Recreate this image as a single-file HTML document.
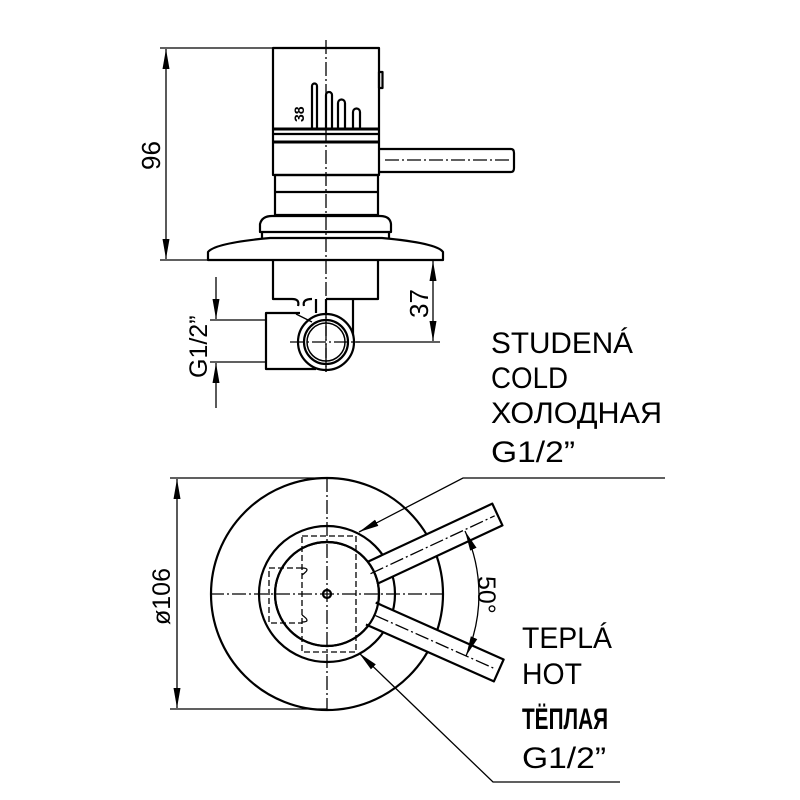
<!DOCTYPE html>
<html><head><meta charset="utf-8"><style>html,body{margin:0;padding:0;background:#fff}svg{display:block}</style></head>
<body>
<svg width="800" height="800" viewBox="0 0 800 800" xmlns="http://www.w3.org/2000/svg">
<defs>
<marker id="a" viewBox="0 0 10 10" refX="10" refY="5" markerWidth="10" markerHeight="10" markerUnits="userSpaceOnUse" orient="auto-start-reverse"><path d="M0,2 L10,5 L0,8 Z" fill="#000"/></marker>
<marker id="b" viewBox="0 0 20 10" refX="20" refY="5" markerWidth="20" markerHeight="10" markerUnits="userSpaceOnUse" orient="auto-start-reverse"><path d="M0,1.5 L20,5 L0,8.5 Z" fill="#000"/></marker>
</defs>
<g fill="none" stroke="#000" stroke-width="2.2" stroke-linejoin="round">
<!-- top view body -->
<rect x="273" y="48" width="106" height="127" fill="#fff"/>
<rect x="379" y="72" width="3.5" height="16"/>
<line x1="273" y1="129" x2="379" y2="129" stroke-width="3"/>
<line x1="273" y1="134" x2="379" y2="134"/>
<line x1="273" y1="142" x2="379" y2="142" stroke-width="3"/>
<path d="M312,129 V86 a2.5,2.5 0 0 1 5,0 V129"/>
<path d="M326,129 V95 a3,3 0 0 1 6,0 V129"/>
<path d="M338,129 V103 a3.5,3.5 0 0 1 7,0 V129"/>
<path d="M353,129 V112 a3.5,3.5 0 0 1 7,0 V129"/>
<path d="M379,149 H511 Q514,149 514,153 V168 Q514,172 511,172 H379"/>
<rect x="275" y="175" width="103" height="40"/>
<line x1="275" y1="192" x2="378" y2="192"/>
<path d="M260,232 V224 Q262,216 272,216 H380 Q390,216 391,224 V232 Z"/>
<path d="M262,232 V238 M389,232 V238"/>
<path d="M208,260 V252 Q215,243 270,238 H382 Q437,243 443,252 V260 Z"/>
<path d="M273,260 V299 H292 Q300,299 298,306 M304,306 Q302,299 312,299 M326,299 H378 V260"/>
<path d="M316,299 V313 M326,299 V313"/>
<path d="M353,299 V340"/>
<path d="M300,313 H266 V369 H316"/>
<circle cx="326" cy="342" r="28" fill="#fff"/>
<circle cx="326" cy="342" r="22"/>
<circle cx="326" cy="342" r="19" stroke-width="1.5"/>
<line x1="296" y1="314" x2="312" y2="322" stroke-width="1.3"/>
<!-- bottom view -->
<circle cx="327" cy="594" r="116"/>
<circle cx="327" cy="594" r="68" fill="#fff"/>
<g transform="rotate(-25 327 594)"><path d="M370,582 H515 V606 H370" fill="#fff"/></g>
<circle cx="327" cy="594" r="52" fill="#fff"/>
<g transform="rotate(24 327 594)"><path d="M375,582 H515 V606 H375" fill="#fff"/></g>
<circle cx="327" cy="594" r="52" fill="none"/>
<circle cx="327" cy="594" r="4"/>
</g>
<g fill="none" stroke="#000" stroke-width="1.3">
<!-- dashed -->
<g stroke-dasharray="6,3">
<rect x="302" y="536" width="54" height="116"/>
<path d="M302,568 H269 V623 H302"/>
</g>
<path d="M302,568 Q312,568 302,575 M302,622 Q312,622 302,615" />
<!-- centerlines -->
<g stroke-dasharray="14,3,2,3">
<line x1="326" y1="40" x2="326" y2="372"/>
<line x1="385" y1="160" x2="512" y2="160"/>
<line x1="290" y1="342" x2="360" y2="342"/>
<line x1="326" y1="300" x2="326" y2="372"/>
<line x1="210" y1="594" x2="443" y2="594"/>
<line x1="327" y1="478" x2="327" y2="710"/>
<g transform="rotate(-25 327 594)"><line x1="375" y1="594" x2="512" y2="594"/></g>
<g transform="rotate(24 327 594)"><line x1="380" y1="594" x2="512" y2="594"/></g>
</g>
<!-- dims -->
<line x1="160" y1="48" x2="273" y2="48"/>
<line x1="160" y1="260" x2="208" y2="260"/>
<line x1="166" y1="49" x2="166" y2="259" marker-start="url(#b)" marker-end="url(#b)"/>
<line x1="353" y1="342" x2="440" y2="342"/>
<line x1="433" y1="261" x2="433" y2="341" marker-start="url(#b)" marker-end="url(#b)"/>
<line x1="210" y1="320" x2="266" y2="320"/>
<line x1="210" y1="362" x2="266" y2="362"/>
<line x1="216" y1="277" x2="216" y2="319" marker-end="url(#b)"/>
<line x1="216" y1="408" x2="216" y2="363" marker-end="url(#b)"/>
<line x1="170" y1="478" x2="327" y2="478"/>
<line x1="170" y1="709" x2="327" y2="709"/>
<line x1="177" y1="479" x2="177" y2="708" marker-start="url(#b)" marker-end="url(#b)"/>
<path d="M465,531 A152,152 0 0 1 466,656" marker-start="url(#b)" marker-end="url(#b)"/>
<!-- leaders -->
<path d="M665,478 H463 L359,532" marker-end="url(#b)"/>
<path d="M620,782 H493 L359,653" marker-end="url(#b)"/>
</g>
<g font-family="'Liberation Sans','DejaVu Sans',sans-serif" fill="#000">
<text transform="translate(304,122) rotate(-90)" font-size="14" font-weight="bold">38</text>
<text transform="translate(160,170) rotate(-90)" font-size="26">96</text>
<text transform="translate(428,318) rotate(-90)" font-size="26">37</text>
<text transform="translate(207,378) rotate(-90)" font-size="25">G1/2”</text>
<text transform="translate(170,625) rotate(-90)" font-size="25">ø106</text>
<text transform="translate(478,576) rotate(90)" font-size="25">50°</text>
<g font-size="30">
<text x="491" y="353" textLength="142" lengthAdjust="spacingAndGlyphs">STUDENÁ</text>
<text x="491" y="388" textLength="77" lengthAdjust="spacingAndGlyphs">COLD</text>
<text x="491" y="423" textLength="171" lengthAdjust="spacingAndGlyphs">ХОЛОДНАЯ</text>
<text x="491" y="462" textLength="84" lengthAdjust="spacingAndGlyphs">G1/2”</text>
<text x="522" y="648" textLength="90" lengthAdjust="spacingAndGlyphs">TEPLÁ</text>
<text x="522" y="684" textLength="60" lengthAdjust="spacingAndGlyphs">HOT</text>
<text x="522" y="729" textLength="86" lengthAdjust="spacingAndGlyphs" font-weight="bold">ТЁПЛАЯ</text>
<text x="522" y="768" textLength="84" lengthAdjust="spacingAndGlyphs">G1/2”</text>
</g>
</g>
</svg>
</body></html>
